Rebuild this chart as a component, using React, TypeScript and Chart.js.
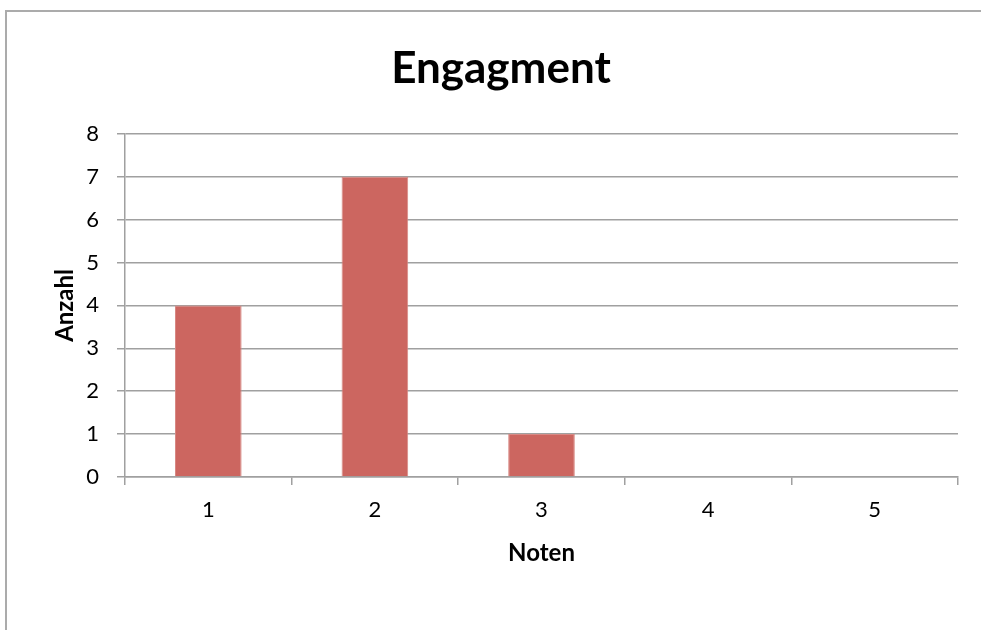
import React, { useEffect, useRef } from "react";
import { Chart, registerables } from "chart.js";

Chart.register(...registerables);

const categories = ["1", "2", "3", "4", "5"];
const counts = [4, 7, 1, 0, 0];
const chartTitle = "Engagment";
const xTitle = "Noten";
const yTitle = "Anzahl";

const GRAY = "#a0a0a0";
const FONT = "Lato";

const frame = {
  id: "frame",
  beforeDraw(chart: any) {
    const ctx = chart.ctx;
    ctx.save();
    ctx.strokeStyle = "#ababab";
    ctx.lineWidth = 2;
    ctx.beginPath();
    ctx.moveTo(6, chart.height + 5);
    ctx.lineTo(6, 11);
    ctx.lineTo(chart.width + 5, 11);
    ctx.stroke();
    ctx.restore();
  },
};

export default function App() {
  const ref = useRef<HTMLCanvasElement | null>(null);

  useEffect(() => {
    if (!ref.current) return;
    document.body.style.margin = "0";
    const chart = new Chart(ref.current, {
      type: "bar",
      data: {
        labels: categories,
        datasets: [
          {
            data: counts,
            backgroundColor: "#cc6660",
            borderColor: "#d88a85",
            borderWidth: 1,
            categoryPercentage: 1,
            barPercentage: 0.4,
          },
        ],
      },
      plugins: [frame],
      options: {
        responsive: false,
        animation: false,
        devicePixelRatio: 1,
        layout: { padding: { left: 44, right: 23, top: 0, bottom: 53 } },
        plugins: {
          legend: { display: false },
          tooltip: { enabled: false },
          title: {
            display: true,
            text: chartTitle,
            color: "#000",
            font: { family: FONT, size: 44, weight: "bold", lineHeight: 1.2 },
            padding: { top: 42, bottom: 39 },
          },
        },
        scales: {
          x: {
            afterFit: (s: any) => {
              s.height = 100;
            },
            grid: {
              offset: true,
              drawOnChartArea: false,
              drawTicks: true,
              tickLength: 8,
              color: GRAY,
              lineWidth: 1.5,
            },
            border: { display: true, color: GRAY, width: 1.5 },
            ticks: {
              color: "#000",
              padding: 12,
              font: { family: FONT, size: 22 },
            },
            title: {
              display: true,
              text: xTitle,
              color: "#000",
              font: { family: FONT, size: 24, weight: "bold", lineHeight: 1.2 },
              padding: { top: 0, bottom: 9 },
            },
          },
          y: {
            min: 0,
            max: 8,
            afterFit: (s: any) => {
              s.width = 81;
            },
            grid: {
              drawTicks: true,
              tickLength: 8,
              color: GRAY,
              lineWidth: 1.5,
            },
            border: { display: true, color: GRAY, width: 1.5 },
            ticks: {
              stepSize: 1,
              color: "#000",
              padding: 18,
              font: { family: FONT, size: 22 },
            },
            title: {
              display: true,
              text: yTitle,
              color: "#000",
              font: { family: FONT, size: 24, weight: "bold", lineHeight: 1.2 },
              padding: { top: 7, bottom: 0 },
            },
          },
        },
      },
    });
    return () => chart.destroy();
  }, []);

  return (
    <div style={{ width: 981, height: 630, overflow: "hidden", background: "#fff" }}>
      <canvas ref={ref} width={981} height={630} style={{ display: "block", width: 981, height: 630 }} />
    </div>
  );
}
